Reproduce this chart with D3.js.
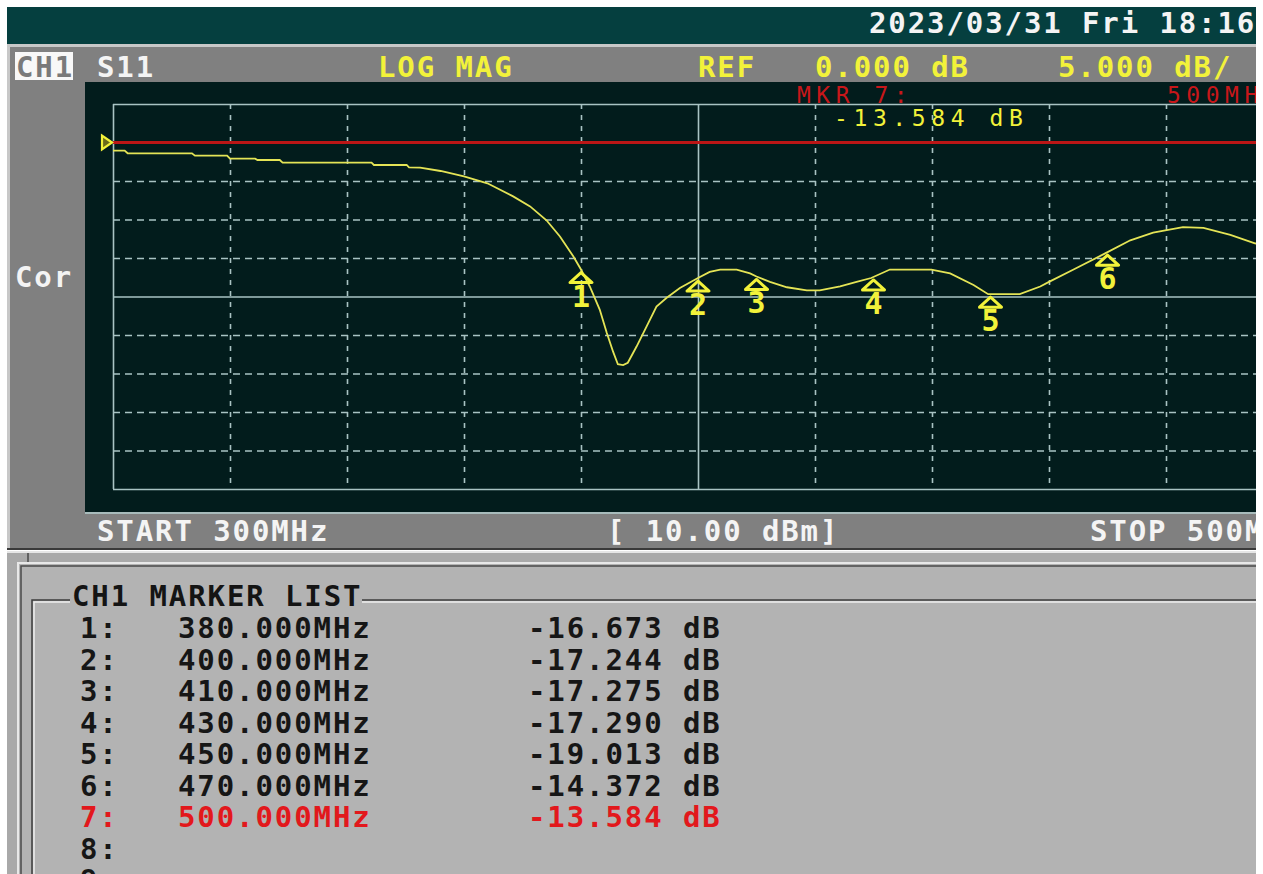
<!DOCTYPE html>
<html>
<head>
<meta charset="utf-8">
<script src="https://cdn.jsdelivr.net/npm/d3@7/dist/d3.min.js"></script>
<style>
  html, body { margin: 0; padding: 0; background: #fff; }
  text { font-family: "DejaVu Sans Mono", monospace; }
</style>
</head>
<body>
<div id="chart"></div>
<script>
// S11 trace (MHz, dB)
const traceFreq = [300, 302, 302.5, 313.5, 314, 319.5, 320, 324.3, 324.7, 328.5,
  329, 344.2, 344.6, 350.2, 350.6, 352.5, 356, 360, 364, 368.4,
  371.3, 374.1, 376.4, 378.7, 380, 381.5, 383.2, 384.4, 385.5, 386.3,
  387.2, 388, 389.5, 391.2, 392.9, 394.6, 396.9, 400, 402, 403.8,
  406.6, 408.9, 410, 412.3, 415.2, 418.6, 420.8, 424.3, 427.1, 429.6,
  432.8, 439.9, 443.1, 447.1, 449.6, 455, 458.5, 460, 464.2, 469.6,
  473.9, 477.8, 482.9, 486.4, 491, 495.2, 500];
const traceDb = [-1.06, -1.06, -1.4, -1.4, -1.7, -1.7, -2.1, -2.1, -2.27, -2.27,
  -2.62, -2.62, -2.92, -2.92, -3.22, -3.25, -3.7, -4.4, -5.3, -7.0,
  -8.3, -10.1, -12.2, -14.8, -16.5, -18.7, -21.7, -24.7, -27.2, -28.8,
  -28.9, -28.6, -26.5, -23.9, -21.3, -20.2, -18.9, -17.6, -16.8, -16.5,
  -16.5, -17.0, -17.4, -18.1, -18.8, -19.2, -19.2, -18.7, -18.1, -17.6,
  -16.5, -16.5, -17.0, -18.5, -19.7, -19.7, -18.7, -18.1, -16.5, -14.4,
  -12.7, -11.7, -11.0, -11.1, -12.0, -13.1, -13.6];

// marker list
const markerFreq = [380, 400, 410, 430, 450, 470, 500];
const markerDb = [-16.673, -17.244, -17.275, -17.290, -19.013, -14.372, -13.584];
const activeMarker = 7;
const listSlots = 9;

// axis setup (5 dB/div, ref 0 dB one div from top)
const xTicks = d3.range(300, 501, 20);
const yTicks = d3.range(-45, 6, 5);
const refDb = 0;

const W = 1263, H = 874;
const mono = { size: 29, spacing: 1.9 };
const gridColor = "#a9c3c3";
const yellow = "#f2f23a";

const svg = d3.select("#chart").append("svg")
  .attr("width", W).attr("height", H)
  .style("display", "block");

svg.append("defs").append("clipPath").attr("id", "screen")
  .append("rect").attr("x", 0).attr("y", 0).attr("width", 1256).attr("height", H);
svg.append("defs").append("clipPath").attr("id", "plotclip")
  .append("rect").attr("x", 85).attr("y", 82).attr("width", 1171).attr("height", 430);

const root = svg.append("g").attr("clip-path", "url(#screen)");

function label(g, x, y, str, color, opts) {
  opts = opts || {};
  return g.append("text")
    .attr("x", x).attr("y", y)
    .attr("fill", color)
    .attr("font-size", opts.size || mono.size)
    .attr("font-weight", opts.weight || "bold")
    .attr("letter-spacing", opts.spacing !== undefined ? opts.spacing : mono.spacing)
    .attr("text-anchor", opts.anchor || "start")
    .text(str);
}

// ---- top status bar
root.append("rect").attr("x", 7).attr("y", 7).attr("width", 1256).attr("height", 37).attr("fill", "#053f3f");
label(root, 869, 33, "2023/03/31 Fri 18:16", "#f4f4f4");

// ---- gray channel window
root.append("rect").attr("x", 7).attr("y", 44).attr("width", 1256).attr("height", 506).attr("fill", "#c8c8c8");
root.append("rect").attr("x", 10).attr("y", 47).attr("width", 1253).attr("height", 501).attr("fill", "#808080");
root.append("line").attr("x1", 7).attr("x2", 1263).attr("y1", 549).attr("y2", 549).attr("stroke", "#3a3a3a").attr("stroke-width", 2);

root.append("rect").attr("x", 15).attr("y", 52).attr("width", 58).attr("height", 28).attr("fill", "#f8f8f8");
label(root, 16, 77, "CH1", "#7a7a7a");
label(root, 97, 77, "S11", "#f4f4f4");
label(root, 378, 77, "LOG MAG", yellow);
label(root, 698, 77, "REF", yellow);
label(root, 815, 77, refDb.toFixed(3) + " dB", yellow);
label(root, 1058, 77, "5.000 dB/", yellow);
label(root, 15, 287, "Cor", "#f4f4f4", { size: 29 });

label(root, 97, 541, "START " + xTicks[0] + "MHz", "#f4f4f4");
label(root, 607, 541, "[ 10.00 dBm]", "#f4f4f4");
label(root, 1090, 541, "STOP " + xTicks[xTicks.length - 1] + "MHz", "#f4f4f4");

// ---- dark plot area
root.append("rect").attr("x", 85).attr("y", 82).attr("width", 1178).attr("height", 430).attr("fill", "#021c1c");
root.append("line").attr("x1", 85).attr("x2", 1263).attr("y1", 513).attr("y2", 513).attr("stroke", "#a8bcbc").attr("stroke-width", 2);

const x = d3.scaleLinear().domain([300, 500]).range([113, 1283]);
const y = d3.scaleLinear().domain([-45, 5]).range([489, 104]);

const plot = root.append("g").attr("clip-path", "url(#plotclip)");

// marker readout (sits under the top frame line)
label(plot, 797, 103, "MKR  " + activeMarker + ":", "#c8171a", { size: 23, weight: "normal", spacing: 5.5 });
label(plot, 1167, 103, markerFreq[activeMarker - 1] + "MHz", "#c8171a", { size: 23, weight: "normal", spacing: 5.5 });
label(plot, 834, 126, markerDb[activeMarker - 1].toFixed(3) + " dB", yellow, { size: 23, weight: "normal", spacing: 5.6 });

const solidX = [300, 400, 500];
const gx = plot.append("g")
  .attr("transform", `translate(0,${y(5)})`)
  .call(d3.axisBottom(x).tickValues(xTicks).tickSize(y(-45) - y(5)).tickFormat(""));
gx.select(".domain").remove();
gx.selectAll(".tick text").remove();
gx.selectAll(".tick line")
  .attr("stroke", gridColor).attr("stroke-width", 1.6)
  .attr("stroke-dasharray", d => solidX.includes(d) ? null : "5,6");

const solidY = [-45, -20, 5];
const gy = plot.append("g")
  .attr("transform", `translate(${x(300)},0)`)
  .call(d3.axisRight(y).tickValues(yTicks).tickSize(x(500) - x(300)).tickFormat(""));
gy.select(".domain").remove();
gy.selectAll(".tick text").remove();
gy.selectAll(".tick line")
  .attr("stroke", gridColor).attr("stroke-width", 1.6)
  .attr("stroke-dasharray", d => solidY.includes(d) ? null : "7,5");

// reference line + arrow
plot.append("line")
  .attr("x1", x(300)).attr("x2", x(500))
  .attr("y1", y(refDb)).attr("y2", y(refDb))
  .attr("stroke", "#bb1616").attr("stroke-width", 3);
plot.append("path")
  .attr("d", `M${x(300) - 1},${y(refDb)} L${x(300) - 11},${y(refDb) - 7} L${x(300) - 11},${y(refDb) + 7} Z`)
  .attr("fill", "#6b6b1a").attr("stroke", yellow).attr("stroke-width", 2.2);

// trace
const traceData = traceFreq.map((f, i) => ({ f: f, db: traceDb[i] }));
const line = d3.line().x(d => x(d.f)).y(d => y(d.db));
plot.append("path")
  .datum(traceData)
  .attr("d", line)
  .attr("fill", "none")
  .attr("stroke", "#e4e456")
  .attr("stroke-width", 1.8);

const bis = d3.bisector(d => d.f).left;
function traceAt(f) {
  const i = bis(traceData, f);
  if (i <= 0) return traceData[0].db;
  if (i >= traceData.length) return traceData[traceData.length - 1].db;
  const a = traceData[i - 1], b = traceData[i];
  return a.db + (b.db - a.db) * (f - a.f) / (b.f - a.f);
}

// marker triangles and numbers
const mk = plot.selectAll(".mk")
  .data(markerFreq.map((f, i) => ({ n: i + 1, f: f, db: markerDb[i] })))
  .join("g").attr("class", "mk");
mk.append("path")
  .attr("d", d => {
    const cx = x(d.f), ay = y(traceAt(d.f)) + 3;
    return `M${cx},${ay} L${cx + 11},${ay + 10} L${cx - 11},${ay + 10} Z`;
  })
  .attr("fill", "none").attr("stroke", yellow).attr("stroke-width", 3)
  .attr("stroke-linejoin", "round");
mk.append("text")
  .attr("x", d => x(d.f)).attr("y", d => y(traceAt(d.f)) + 37)
  .attr("text-anchor", "middle")
  .attr("fill", yellow)
  .attr("font-size", 30).attr("font-weight", "bold")
  .text(d => d.n);

// ---- marker list window
root.append("rect").attr("x", 7).attr("y", 551).attr("width", 1256).attr("height", 323).attr("fill", "#a9a9a9");
root.append("line").attr("x1", 7).attr("x2", 1263).attr("y1", 552).attr("y2", 552).attr("stroke", "#e6e6e6").attr("stroke-width", 2);
root.append("line").attr("x1", 28).attr("x2", 28).attr("y1", 553).attr("y2", 563).attr("stroke", "#4a4a4a").attr("stroke-width", 1.5);
root.append("rect").attr("x", 18).attr("y", 563).attr("width", 1245).attr("height", 311).attr("fill", "#b3b3b3");
root.append("path").attr("d", "M18,874 V563 H1263").attr("fill", "none").attr("stroke", "#e8e8e8").attr("stroke-width", 2);
root.append("path").attr("d", "M21,874 V566 H1263").attr("fill", "none").attr("stroke", "#4a4a4a").attr("stroke-width", 1.5);

// group frame around list
root.append("path").attr("d", "M70,600 H32 V874").attr("fill", "none").attr("stroke", "#3c3c3c").attr("stroke-width", 1.5);
root.append("path").attr("d", "M70,602 H34 V874").attr("fill", "none").attr("stroke", "#eeeeee").attr("stroke-width", 1.5);
root.append("line").attr("x1", 362).attr("x2", 1263).attr("y1", 600).attr("y2", 600).attr("stroke", "#3c3c3c").attr("stroke-width", 1.5);
root.append("line").attr("x1", 362).attr("x2", 1263).attr("y1", 602).attr("y2", 602).attr("stroke", "#eeeeee").attr("stroke-width", 1.5);
label(root, 72, 606, "CH1 MARKER LIST", "#141414");

const rowY = d3.scaleLinear().domain([1, 2]).range([638, 669.5]);
d3.range(1, listSlots + 1).forEach(n => {
  const c = n === activeMarker ? "#e2181c" : "#161616";
  const yy = rowY(n);
  label(root, 80, yy, n + ":", c);
  if (n <= markerFreq.length) {
    label(root, 178, yy, markerFreq[n - 1].toFixed(3) + "MHz", c);
    label(root, 528, yy, markerDb[n - 1].toFixed(3) + " dB", c);
  }
});
</script>
</body>
</html>
